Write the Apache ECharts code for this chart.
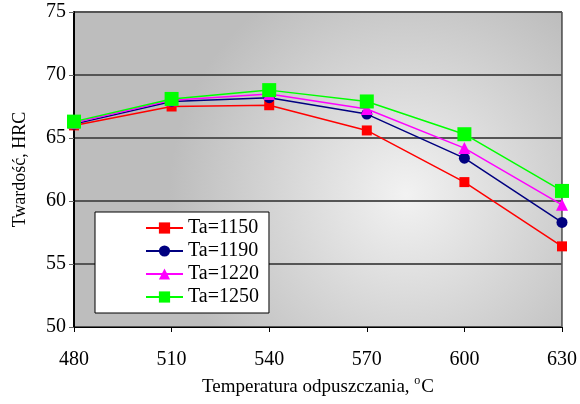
<!DOCTYPE html>
<html><head><meta charset="utf-8">
<script src="https://cdn.jsdelivr.net/npm/echarts@6/dist/echarts.min.js"></script>
<style>html,body{margin:0;padding:0;background:#fff}#c{width:580px;height:404px}</style>
</head><body><div id="c"></div>
<script>
const temps = [480, 510, 540, 570, 600, 630];
const names = ['Ta=1150', 'Ta=1190', 'Ta=1220', 'Ta=1250'];
const ta1150 = [66.0, 67.5, 67.6, 65.6, 61.5, 56.4];
const ta1190 = [66.1, 67.9, 68.2, 66.9, 63.4, 58.3];
const ta1220 = [66.2, 68.0, 68.5, 67.3, 64.2, 59.7];
const ta1250 = [66.3, 68.1, 68.8, 67.9, 65.3, 60.8];
const yTicks = [50, 55, 60, 65, 70, 75];

const seriesData = [ta1150, ta1190, ta1220, ta1250];
const colors = ['#ff0000', '#000080', '#ff00ff', '#00ff00'];
const symbols = ['rect', 'circle', 'triangle', 'rect'];
const sizes = [10, 11, 12, 14];
const font = 'Liberation Serif';

const chart = echarts.init(document.getElementById('c'));
chart.setOption({
  animation: false,
  textStyle: {fontFamily: font},
  grid: {
    left: 74, right: 17, top: 12, bottom: 77,
    show: true,
    borderColor: '#000', borderWidth: 1,
    backgroundColor: new echarts.graphic.RadialGradient(0.68, 0.58, 0.75, [
      {offset: 0, color: '#f2f2f2'},
      {offset: 1, color: '#bdbdbd'}
    ])
  },
  xAxis: {
    type: 'value', min: 480, max: 630, interval: 30,
    name: '{a|Temperatura odpuszczania, }{s|o}{a|C}',
    nameLocation: 'middle', nameGap: 45,
    nameTextStyle: {
      rich: {
        a: {fontFamily: font, fontSize: 19, color: '#000'},
        s: {fontFamily: font, fontSize: 12, color: '#000', verticalAlign: 'top', lineHeight: 24, padding: [0, 1, 9, 0]}
      }
    },
    axisLine: {lineStyle: {color: '#000', width: 1}},
    axisTick: {show: true, length: 5, lineStyle: {color: '#000'}},
    axisLabel: {fontFamily: font, fontSize: 20, color: '#000', margin: 23, formatter: v => temps.includes(v) ? String(v) : ''},
    splitLine: {show: false}
  },
  yAxis: {
    type: 'value', min: 50, max: 75, interval: 5,
    name: 'Twardość, HRC',
    nameLocation: 'middle', nameGap: 45,
    nameTextStyle: {fontFamily: font, fontSize: 18, color: '#000'},
    axisLine: {show: true, lineStyle: {color: '#000', width: 2}},
    axisTick: {show: true, length: 5, lineStyle: {color: '#666'}},
    axisLabel: {fontFamily: font, fontSize: 20, color: '#000', margin: 8, formatter: v => yTicks.includes(v) ? String(v) : ''},
    splitLine: {show: true, lineStyle: {color: '#555', width: 2}}
  },
  legend: {
    orient: 'vertical', left: 95, top: 212,
    backgroundColor: '#fff', borderColor: '#000', borderWidth: 1, borderRadius: 0,
    padding: [6, 10, 6, 50],
    itemWidth: 37, itemHeight: 14, itemGap: 3,
    formatter: n => '{t|' + n + '}',
    textStyle: {
      fontFamily: font, fontSize: 20, color: '#000',
      rich: {t: {fontFamily: font, fontSize: 20, color: '#000', lineHeight: 20}}
    },
    data: names
  },
  series: names.map((n, i) => ({
    name: n, type: 'line',
    data: temps.map((t, j) => [t, seriesData[i][j]]),
    symbol: symbols[i], symbolSize: sizes[i],
    color: colors[i],
    itemStyle: {color: colors[i]},
    lineStyle: {color: colors[i], width: 1.5},
    z: 2 + i
  }))
});
</script></body></html>
